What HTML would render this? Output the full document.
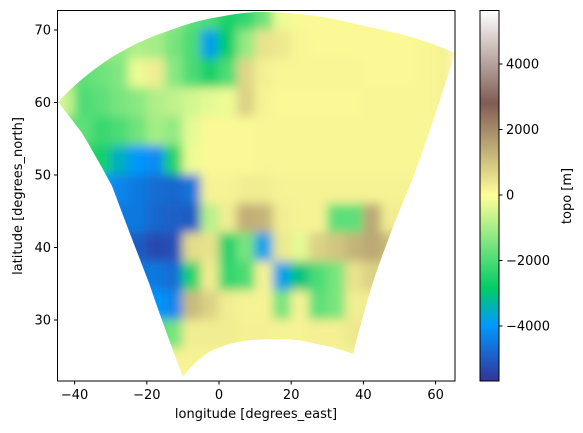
<!DOCTYPE html>
<html><head><meta charset="utf-8"><style>
body{margin:0;background:#fff;}
svg{display:block;font-family:"DejaVu Sans","Liberation Sans",sans-serif;}
</style></head><body>
<svg id="chart" width="583" height="433" viewBox="0 0 583 433" xmlns="http://www.w3.org/2000/svg">
<defs>
<clipPath id="fan"><path d="M58,102 Q80,78 112,57 Q140,40 168,31 Q196,20 224,16 Q245,12 261,12 Q280,12 299,14 Q330,17 355,24 Q385,30 411,37 Q435,44 455,53 Q435,118 411,183 Q390,232 373,282 Q362,318 353,354 Q335,347 317,344 Q298,339 280,339 Q260,339 243,341 Q225,344 209,352 Q194,362 183,377 Q165,330 149,283 Q130,234 112,186 Q97,158 82,133 Q70,117 58,102Z"/></clipPath>
<filter id="soft" filterUnits="userSpaceOnUse" x="0" y="0" width="583" height="433"><feGaussianBlur stdDeviation="5"/></filter>
<linearGradient id="cbgrad" x1="0" y1="1" x2="0" y2="0">
<stop offset="0" stop-color="#333399"/><stop offset="0.15" stop-color="#0099ff"/><stop offset="0.25" stop-color="#00cc66"/><stop offset="0.5" stop-color="#ffff99"/><stop offset="0.75" stop-color="#805c54"/><stop offset="1" stop-color="#ffffff"/>
</linearGradient>
</defs>
<g clip-path="url(#fan)"><g id="cells" filter="url(#soft)"></g></g>
<rect x="57.5" y="10.5" width="397.5" height="370.5" fill="none" stroke="#000" stroke-width="1"/>
<g id="axes"></g>
<text x="256" y="418" font-size="13" text-anchor="middle">longitude [degrees_east]</text>
<text transform="translate(22,196) rotate(-90)" font-size="13" text-anchor="middle">latitude [degrees_north]</text>
<rect x="480" y="10.5" width="19" height="370.5" fill="url(#cbgrad)" stroke="#000" stroke-width="1"/>
<g id="cbaxis"></g>
<text transform="translate(571,196) rotate(-90)" font-size="13" text-anchor="middle">topo [m]</text>
</svg>
<script>
const lonCenters=[-42.5,-37.5,-32.5,-27.5,-22.5,-17.5,-12.5,-7.5,-2.5,2.5,7.5,12.5,17.5,22.5,27.5,32.5,37.5,42.5,47.5,52.5,57.5,62.5];
const latCenters=[72,68,64,60,56,52,48,44,40,36,32,28,24];
const topo=[
[-800,-800,-800,-800,-800,-800,-1200,-1800,-2000,-2600,-2300,-1600,-200,100,100,100,100,100,100,100,100,100],
[-500,-500,-1000,-1200,-900,-1000,-1500,-2000,-3800,-2800,-1200,500,400,150,100,100,100,100,100,100,150,200],
[-1200,-1800,-1600,-1400,-200,300,-1300,-2000,-2600,-2000,700,250,150,150,150,150,150,100,100,100,150,200],
[-600,-2000,-1800,-1500,-1300,-900,-700,-500,-300,-200,800,200,100,100,100,100,100,150,150,150,150,200],
[-1800,-1800,-2200,-2000,-1600,-1000,-1200,-300,100,100,100,150,150,150,150,150,150,150,150,150,150,150],
[-2500,-2500,-2600,-3500,-4000,-4200,-2500,-200,100,100,100,150,150,150,150,150,150,150,150,150,150,150],
[-4000,-4000,-4000,-4300,-4500,-4700,-4800,-4600,200,200,300,300,200,200,200,200,200,200,200,200,200,200],
[-4500,-4500,-4500,-4500,-4500,-4800,-4900,-5000,-800,300,1400,1300,300,200,200,-1800,-1800,1500,300,300,300,300],
[-5000,-5000,-5000,-5000,-5000,-5300,-5200,600,500,-2500,-1500,-3800,400,-300,800,1000,1300,1500,1200,1200,1200,1200],
[-4500,-4500,-4500,-4500,-4500,-4500,-4700,-2500,300,-2300,-2000,200,-3800,-3000,-2000,-1500,500,800,800,800,800,800],
[-4000,-4000,-4000,-4000,-4000,-4000,-4300,1200,800,300,200,200,-1500,200,-1800,-1500,300,300,300,300,300,300],
[-2000,-2000,-2000,-2000,-2000,-2000,-1500,300,300,300,250,250,200,200,250,250,400,400,400,400,400,400],
[200,200,200,200,200,200,200,200,200,200,200,200,200,200,200,200,200,200,200,200,200,200]
];
const xTicks=[-40,-20,0,20,40,60];
const yTicks=[30,40,50,60,70];
const cbTicks=[-4000,-2000,0,2000,4000];
const vmin=-5660, vmax=5650;
const NS='http://www.w3.org/2000/svg';
function xs(lon){return 219+lon*3.61;}
function ys(lat){return 30+(70-lat)*7.25;}
function cs(v){return 195-v*131/4000;}
const cmapStops=[[0,[51,51,153]],[0.15,[0,153,255]],[0.25,[0,204,102]],[0.5,[255,255,153]],[0.75,[128,92,84]],[1,[255,255,255]]];
function cmap(v){let t=(v-vmin)/(vmax-vmin);t=Math.max(0,Math.min(1,t));
 for(let i=1;i<cmapStops.length;i++){if(t<=cmapStops[i][0]){const a=cmapStops[i-1],b=cmapStops[i];const f=(t-a[0])/(b[0]-a[0]);
 const c=a[1].map((x,k)=>Math.round(x+(b[1][k]-x)*f));return 'rgb('+c.join(',')+')';}}return '#fff';}
function mk(tag,attrs,parent){const e=document.createElementNS(NS,tag);for(const k in attrs)e.setAttribute(k,attrs[k]);parent.appendChild(e);return e;}
const cells=document.getElementById('cells');
const dLon=5,dLat=4;
topo.forEach((row,ri)=>{row.forEach((v,ci)=>{
 const lon=lonCenters[ci],lat=latCenters[ri];
 const x0=xs(lon-dLon/2),x1=xs(lon+dLon/2),y0=ys(lat+dLat/2),y1=ys(lat-dLat/2);
 const r=mk('rect',{x:x0-0.5,y:y0-0.5,width:x1-x0+1,height:y1-y0+1,fill:cmap(v)},cells);
 
 
});});
const ax=document.getElementById('axes');
xTicks.forEach(t=>{const x=xs(t);
 const l=mk('line',{x1:x,x2:x,y1:381,y2:384.5,stroke:'#000'},ax);
 
 
 const tx=mk('text',{x:x,y:399,'font-size':13,'text-anchor':'middle'},ax);tx.textContent=(t<0?'\u2212'+(-t):t);
 
 });
yTicks.forEach(t=>{const y=ys(t);
 const l=mk('line',{x1:54,x2:57.5,y1:y,y2:y,stroke:'#000'},ax);
 
 
 const tx=mk('text',{x:51,y:y+4.5,'font-size':13,'text-anchor':'end'},ax);tx.textContent=t;
 
 });
const cb=document.getElementById('cbaxis');
cbTicks.forEach(t=>{const y=cs(t);
 const l=mk('line',{x1:499,x2:502.5,y1:y,y2:y,stroke:'#000'},cb);
 
 
 const tx=mk('text',{x:506,y:y+4.5,'font-size':13},cb);tx.textContent=(t<0?'\u2212'+(-t):t);
 
 });
</script>
</body></html>
